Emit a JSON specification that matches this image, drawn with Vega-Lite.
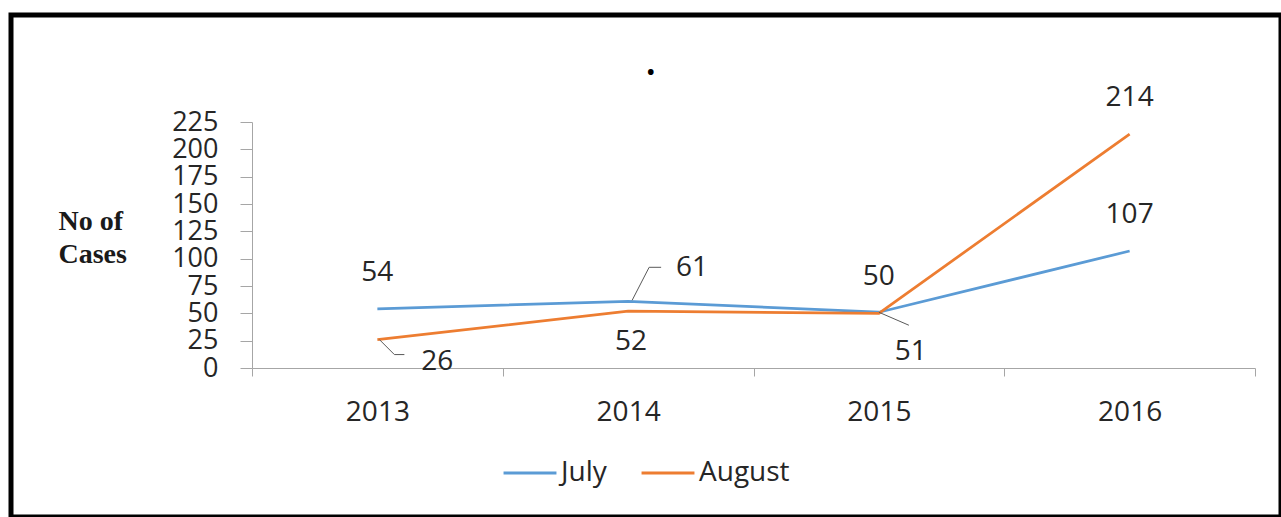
{
  "$schema": "https://vega.github.io/schema/vega-lite/v6.json",
  "autosize": {"type": "none"},
  "width": 1270,
  "height": 502,
  "padding": {"left": 11, "top": 15, "right": 0, "bottom": 0},
  "background": "white",
  "config": {
    "view": {"stroke": "black", "strokeWidth": 5},
    "font": "Open Sans"
  },
  "title": {
    "text": "•",
    "anchor": "start",
    "frame": "group",
    "dx": 636,
    "dy": 72,
    "fontSize": 20,
    "color": "black"
  },
  "data": {
    "values": [
      {"year": "2013", "month": "July", "cases": 54},
      {"year": "2014", "month": "July", "cases": 61},
      {"year": "2015", "month": "July", "cases": 51},
      {"year": "2016", "month": "July", "cases": 107},
      {"year": "2013", "month": "August", "cases": 26},
      {"year": "2014", "month": "August", "cases": 52},
      {"year": "2015", "month": "August", "cases": 50},
      {"year": "2016", "month": "August", "cases": 214}
    ]
  },
  "encoding": {
    "x": {
      "field": "year",
      "type": "ordinal",
      "scale": {"type": "band", "range": [241, 1244], "paddingInner": 0, "paddingOuter": 0},
      "axis": {
        "title": null,
        "orient": "bottom",
        "offset": -149,
        "tickBand": "extent",
        "tickSize": 8,
        "tickColor": "#a6a6a6",
        "domainColor": "#a6a6a6",
        "labelFont": "Open Sans",
        "labelFontSize": 28,
        "labelColor": "#262626",
        "labelPadding": 22,
        "labelAngle": 0,
        "grid": false
      }
    },
    "y": {
      "field": "cases",
      "type": "quantitative",
      "scale": {"domain": [0, 225], "range": [353, 107], "nice": false, "zero": true},
      "axis": {
        "orient": "left",
        "offset": -241,
        "values": [0, 25, 50, 75, 100, 125, 150, 175, 200, 225],
        "tickSize": 12,
        "tickColor": "#a6a6a6",
        "domainColor": "#a6a6a6",
        "labelFont": "Open Sans",
        "labelFontSize": 27,
        "labelColor": "#262626",
        "labelPadding": 22,
        "labelOverlap": false,
        "labelFlush": false,
        "grid": false,
        "title": ["No of", "Cases"],
        "titleFont": "Liberation Serif",
        "titleFontWeight": "bold",
        "titleFontSize": 28,
        "titleColor": "#1a1a1a",
        "titleAngle": 0,
        "titleAlign": "left",
        "titleBaseline": "alphabetic",
        "titleX": -194,
        "titleY": 214,
        "titleLineHeight": 33
      }
    }
  },
  "layer": [
    {
      "mark": {"type": "line", "strokeWidth": 2.75},
      "encoding": {
        "color": {
          "field": "month",
          "type": "nominal",
          "scale": {"domain": ["July", "August"], "range": ["#5b9bd5", "#ed7d31"]},
          "legend": {
            "title": null,
            "orient": "none",
            "legendX": 491,
            "legendY": 430,
            "direction": "horizontal",
            "symbolType": "stroke",
            "symbolSize": 2800,
            "symbolStrokeWidth": 3,
            "labelFont": "Open Sans",
            "labelFontSize": 28,
            "labelColor": "#262626",
            "labelOffset": 3,
            "columnPadding": 28
          }
        }
      }
    },
    {
      "transform": [{"filter": "datum.year == '2013' && datum.month == 'August'"}],
      "mark": {"type": "rule", "color": "#595959", "strokeWidth": 1, "xOffset": 2, "yOffset": 0, "x2Offset": 17, "y2Offset": 15},
      "encoding": {"x2": {"field": "year"}, "y2": {"field": "cases"}}
    },
    {
      "transform": [{"filter": "datum.year == '2013' && datum.month == 'August'"}],
      "mark": {"type": "rule", "color": "#595959", "strokeWidth": 1, "xOffset": 17, "yOffset": 15, "x2Offset": 27, "y2Offset": 15},
      "encoding": {"x2": {"field": "year"}, "y2": {"field": "cases"}}
    },
    {
      "transform": [{"filter": "datum.year == '2014' && datum.month == 'July'"}],
      "mark": {"type": "rule", "color": "#595959", "strokeWidth": 1, "xOffset": 4, "yOffset": -1, "x2Offset": 21, "y2Offset": -34},
      "encoding": {"x2": {"field": "year"}, "y2": {"field": "cases"}}
    },
    {
      "transform": [{"filter": "datum.year == '2014' && datum.month == 'July'"}],
      "mark": {"type": "rule", "color": "#595959", "strokeWidth": 1, "xOffset": 21, "yOffset": -34, "x2Offset": 33, "y2Offset": -34},
      "encoding": {"x2": {"field": "year"}, "y2": {"field": "cases"}}
    },
    {
      "transform": [{"filter": "datum.year == '2015' && datum.month == 'July'"}],
      "mark": {"type": "rule", "color": "#595959", "strokeWidth": 1, "xOffset": 0, "yOffset": 0, "x2Offset": 30, "y2Offset": 13},
      "encoding": {"x2": {"field": "year"}, "y2": {"field": "cases"}}
    },
    {
      "transform": [{"filter": "(datum.year == '2013' && datum.month == 'July') || (datum.year == '2015' && datum.month == 'August') || datum.year == '2016'"}],
      "mark": {"type": "text", "font": "Open Sans", "fontSize": 28, "color": "#262626", "align": "center", "baseline": "middle", "dy": -36},
      "encoding": {"text": {"field": "cases", "type": "quantitative"}}
    },
    {
      "transform": [{"filter": "datum.year == '2014' && datum.month == 'August'"}],
      "mark": {"type": "text", "font": "Open Sans", "fontSize": 28, "color": "#262626", "align": "center", "baseline": "middle", "dx": 3, "dy": 31},
      "encoding": {"text": {"field": "cases", "type": "quantitative"}}
    },
    {
      "transform": [{"filter": "datum.year == '2014' && datum.month == 'July'"}],
      "mark": {"type": "text", "font": "Open Sans", "fontSize": 28, "color": "#262626", "align": "center", "baseline": "middle", "dx": 64, "dy": -33},
      "encoding": {"text": {"field": "cases", "type": "quantitative"}}
    },
    {
      "transform": [{"filter": "datum.year == '2013' && datum.month == 'August'"}],
      "mark": {"type": "text", "font": "Open Sans", "fontSize": 28, "color": "#262626", "align": "center", "baseline": "middle", "dx": 60, "dy": 22},
      "encoding": {"text": {"field": "cases", "type": "quantitative"}}
    },
    {
      "transform": [{"filter": "datum.year == '2015' && datum.month == 'July'"}],
      "mark": {"type": "text", "font": "Open Sans", "fontSize": 28, "color": "#262626", "align": "center", "baseline": "middle", "dx": 32, "dy": 40},
      "encoding": {"text": {"field": "cases", "type": "quantitative"}}
    }
  ]
}
